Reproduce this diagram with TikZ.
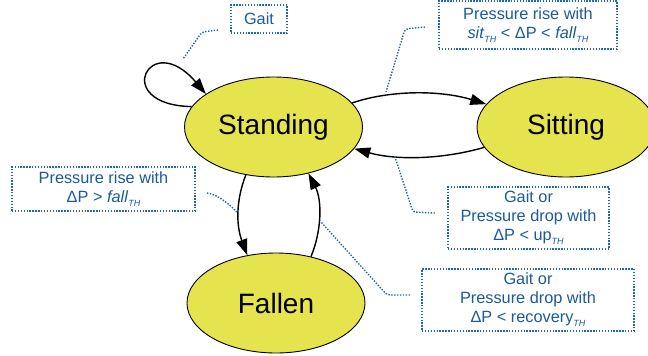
\documentclass[tikz,border=0pt]{standalone}
\usepackage{fontspec}
\setmainfont{Liberation Sans}
\usetikzlibrary{arrows.meta,shapes.geometric}
\definecolor{stfill}{HTML}{E6E44E}
\definecolor{lbltext}{HTML}{1C5A99}
\definecolor{lbldot}{HTML}{2369A8}
\newcommand{\thsub}{\raisebox{-4pt}{\fontsize{9}{9}\selectfont\itshape TH}}
\tikzset{
  state/.style={ellipse, draw=black, line width=0.9pt, fill=stfill,
    minimum width=178pt, minimum height=100pt, inner sep=0pt,
    font=\fontsize{28}{31}\selectfont},
  lbl/.style={draw=lbldot, line width=1.4pt, dash pattern=on 1.4pt off 1.5pt,
    text=lbltext, align=center, inner sep=0pt,
    font=\fontsize{16.3}{19}\selectfont},
  leader/.style={draw=lbldot, line width=1.4pt, dash pattern=on 1.4pt off 1.5pt, rounded corners=3pt},
  trans/.style={draw=black, line width=1.4pt, -{Triangle[length=16pt,width=11pt]}}
}
\begin{document}
\begin{tikzpicture}[x=1pt,y=-1pt]
\useasboundingbox (0,0) rectangle (648,356);
\node[state] (stand) at (273.5,127) {Standing};
\node[state] (sit) at (566,127) {Sitting};
\node[state] (fall) at (276,303) {Fallen};

\node[lbl, minimum width=56pt, minimum height=28pt] (lgait) at (259,19) {Gait};
\node[lbl, minimum width=178pt, minimum height=48pt] (lrise) at (528,25)
  {Pressure rise with\\\textit{sit}\thsub{} < ΔP < \textit{fall}\thsub};
\node[lbl, minimum width=183pt, minimum height=44pt] (lfall) at (103.5,189)
  {Pressure rise with\\ΔP > \textit{fall}\thsub};
\node[lbl, minimum width=161pt, minimum height=62pt] (lup) at (528.5,218)
  {Gait or\\Pressure drop with\\ΔP < up\thsub};
\node[lbl, minimum width=212pt, minimum height=62pt] (lrec) at (528,300)
  {Gait or\\Pressure drop with\\ΔP < recovery\thsub};

% transitions
\draw[trans] (stand.166) .. controls (110,105) and (150,28) .. (stand.154);
\draw[trans] (stand.17) .. controls (390,90) and (440,90) .. (sit.164);
\draw[trans] (sit.194.5) .. controls (440,160) and (395,160) .. (stand.345.7);
\draw[trans] (stand.240) .. controls (236,200) and (236,225) .. (fall.121);
\draw[trans] (fall.53) .. controls (322,230) and (322,200) .. (stand.307);

% leaders
\coordinate (a1) at (218,30); \coordinate (a2) at (202,32); \coordinate (a3) at (183,59);
\draw[leader] (a1) -- (a2) -- (a3);
\coordinate (b1) at (425,27); \coordinate (b2) at (405,29); \coordinate (b3) at (386,92);
\draw[leader] (b1) -- (b2) -- (b3);
\coordinate (c1) at (207,193); \coordinate (c2) at (237,212);
\draw[leader] (c1) .. controls (215,194) and (225,200) .. (c2);
\coordinate (d1) at (435,213); \coordinate (d2) at (413,212); \coordinate (d3) at (395,157);
\draw[leader] (d1) -- (d2) -- (d3);
\coordinate (e1) at (410,295); \coordinate (e2) at (387,295); \coordinate (e3) at (321,222);
\draw[leader] (e1) -- (e2) -- (e3);
\end{tikzpicture}
\end{document}
